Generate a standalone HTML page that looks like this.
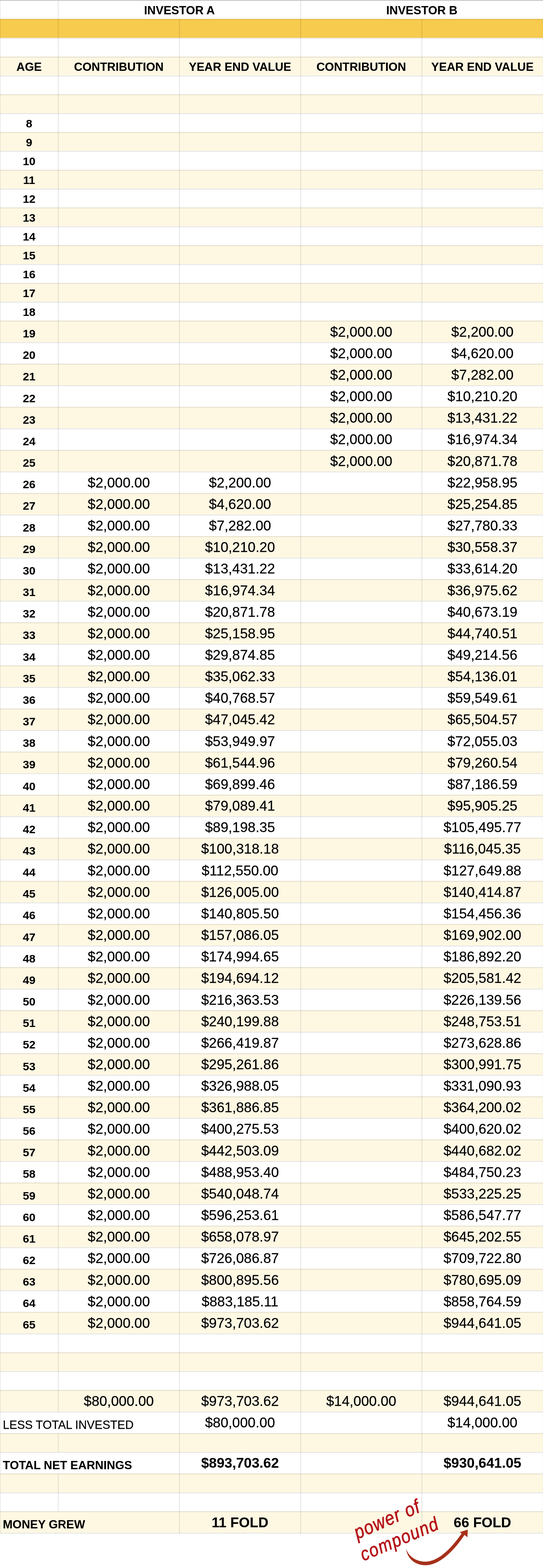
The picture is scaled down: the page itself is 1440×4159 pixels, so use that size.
<!DOCTYPE html>
<html><head><meta charset="utf-8"><title>Investor A vs Investor B</title>
<style>
html,body{margin:0;padding:0;background:#fff;}
body{width:1440px;height:4159px;position:relative;overflow:hidden;font-family:"Liberation Sans",Arial,sans-serif;color:#000;}
.bg{position:absolute;left:0;top:0;}
.c{background:#fef8e3;}
.y{background:#f7cb4d;}
.h{position:absolute;left:0;width:1440px;height:2px;background:rgba(0,0,0,.105);}
.v{position:absolute;width:2px;background:rgba(0,0,0,.105);}
.t{position:absolute;white-space:nowrap;line-height:1;-webkit-text-stroke:0.3px #000;}
.s{font-size:31px;}
.l{font-size:37.1px;}
.a{font-size:30.2px;}
.b{font-weight:bold;-webkit-text-stroke-width:0.1px;}
.m{text-align:center;}
.hand{position:absolute;color:#b5141a;font-style:italic;font-weight:normal;-webkit-text-stroke:0.9px #b5141a;white-space:nowrap;line-height:1;transform-origin:0 0.8465em;}
</style></head><body>

<svg class="bg" width="1440" height="4159" viewBox="0 0 1440 4159"><rect x="0" y="50.21" width="1440" height="50.01" fill="#f7cb4d"/><rect x="0" y="150.24" width="1440" height="50.01" fill="#fef8e3"/><rect x="0" y="250.27" width="1440" height="50.01" fill="#fef8e3"/><rect x="0" y="350.30" width="1440" height="50.01" fill="#fef8e3"/><rect x="0" y="450.32" width="1440" height="50.01" fill="#fef8e3"/><rect x="0" y="550.35" width="1440" height="50.01" fill="#fef8e3"/><rect x="0" y="650.38" width="1440" height="50.01" fill="#fef8e3"/><rect x="0" y="750.40" width="1440" height="50.01" fill="#fef8e3"/><rect x="0" y="850.43" width="1440" height="57.16" fill="#fef8e3"/><rect x="0" y="964.75" width="1440" height="57.16" fill="#fef8e3"/><rect x="0" y="1079.06" width="1440" height="57.16" fill="#fef8e3"/><rect x="0" y="1193.38" width="1440" height="57.16" fill="#fef8e3"/><rect x="0" y="1307.70" width="1440" height="57.16" fill="#fef8e3"/><rect x="0" y="1422.02" width="1440" height="57.16" fill="#fef8e3"/><rect x="0" y="1536.33" width="1440" height="57.16" fill="#fef8e3"/><rect x="0" y="1650.65" width="1440" height="57.16" fill="#fef8e3"/><rect x="0" y="1764.97" width="1440" height="57.16" fill="#fef8e3"/><rect x="0" y="1879.28" width="1440" height="57.16" fill="#fef8e3"/><rect x="0" y="1993.60" width="1440" height="57.16" fill="#fef8e3"/><rect x="0" y="2107.92" width="1440" height="57.16" fill="#fef8e3"/><rect x="0" y="2222.23" width="1440" height="57.16" fill="#fef8e3"/><rect x="0" y="2336.55" width="1440" height="57.16" fill="#fef8e3"/><rect x="0" y="2450.87" width="1440" height="57.16" fill="#fef8e3"/><rect x="0" y="2565.18" width="1440" height="57.16" fill="#fef8e3"/><rect x="0" y="2679.50" width="1440" height="57.16" fill="#fef8e3"/><rect x="0" y="2793.82" width="1440" height="57.16" fill="#fef8e3"/><rect x="0" y="2908.13" width="1440" height="57.16" fill="#fef8e3"/><rect x="0" y="3022.45" width="1440" height="57.16" fill="#fef8e3"/><rect x="0" y="3136.77" width="1440" height="57.16" fill="#fef8e3"/><rect x="0" y="3251.08" width="1440" height="57.16" fill="#fef8e3"/><rect x="0" y="3365.40" width="1440" height="57.16" fill="#fef8e3"/><rect x="0" y="3479.72" width="1440" height="57.16" fill="#fef8e3"/><rect x="0" y="3586.89" width="1440" height="50.01" fill="#fef8e3"/><rect x="0" y="3686.92" width="1440" height="57.16" fill="#fef8e3"/><rect x="0" y="3801.23" width="1440" height="50.01" fill="#fef8e3"/><rect x="0" y="3908.41" width="1440" height="50.01" fill="#fef8e3"/><rect x="0" y="4008.43" width="1440" height="57.16" fill="#fef8e3"/><g fill="#000" fill-opacity="0.1"><rect x="0" y="50.21" width="1440" height="2.35"/><rect x="0" y="100.23" width="1440" height="2.35"/><rect x="0" y="150.24" width="1440" height="2.35"/><rect x="0" y="200.25" width="1440" height="2.35"/><rect x="0" y="250.27" width="1440" height="2.35"/><rect x="0" y="300.28" width="1440" height="2.35"/><rect x="0" y="350.30" width="1440" height="2.35"/><rect x="0" y="400.31" width="1440" height="2.35"/><rect x="0" y="450.32" width="1440" height="2.35"/><rect x="0" y="500.34" width="1440" height="2.35"/><rect x="0" y="550.35" width="1440" height="2.35"/><rect x="0" y="600.36" width="1440" height="2.35"/><rect x="0" y="650.38" width="1440" height="2.35"/><rect x="0" y="700.39" width="1440" height="2.35"/><rect x="0" y="750.40" width="1440" height="2.35"/><rect x="0" y="800.42" width="1440" height="2.35"/><rect x="0" y="850.43" width="1440" height="2.35"/><rect x="0" y="907.59" width="1440" height="2.35"/><rect x="0" y="964.75" width="1440" height="2.35"/><rect x="0" y="1021.91" width="1440" height="2.35"/><rect x="0" y="1079.06" width="1440" height="2.35"/><rect x="0" y="1136.22" width="1440" height="2.35"/><rect x="0" y="1193.38" width="1440" height="2.35"/><rect x="0" y="1250.54" width="1440" height="2.35"/><rect x="0" y="1307.70" width="1440" height="2.35"/><rect x="0" y="1364.86" width="1440" height="2.35"/><rect x="0" y="1422.02" width="1440" height="2.35"/><rect x="0" y="1479.17" width="1440" height="2.35"/><rect x="0" y="1536.33" width="1440" height="2.35"/><rect x="0" y="1593.49" width="1440" height="2.35"/><rect x="0" y="1650.65" width="1440" height="2.35"/><rect x="0" y="1707.81" width="1440" height="2.35"/><rect x="0" y="1764.97" width="1440" height="2.35"/><rect x="0" y="1822.12" width="1440" height="2.35"/><rect x="0" y="1879.28" width="1440" height="2.35"/><rect x="0" y="1936.44" width="1440" height="2.35"/><rect x="0" y="1993.60" width="1440" height="2.35"/><rect x="0" y="2050.76" width="1440" height="2.35"/><rect x="0" y="2107.92" width="1440" height="2.35"/><rect x="0" y="2165.07" width="1440" height="2.35"/><rect x="0" y="2222.23" width="1440" height="2.35"/><rect x="0" y="2279.39" width="1440" height="2.35"/><rect x="0" y="2336.55" width="1440" height="2.35"/><rect x="0" y="2393.71" width="1440" height="2.35"/><rect x="0" y="2450.87" width="1440" height="2.35"/><rect x="0" y="2508.02" width="1440" height="2.35"/><rect x="0" y="2565.18" width="1440" height="2.35"/><rect x="0" y="2622.34" width="1440" height="2.35"/><rect x="0" y="2679.50" width="1440" height="2.35"/><rect x="0" y="2736.66" width="1440" height="2.35"/><rect x="0" y="2793.82" width="1440" height="2.35"/><rect x="0" y="2850.98" width="1440" height="2.35"/><rect x="0" y="2908.13" width="1440" height="2.35"/><rect x="0" y="2965.29" width="1440" height="2.35"/><rect x="0" y="3022.45" width="1440" height="2.35"/><rect x="0" y="3079.61" width="1440" height="2.35"/><rect x="0" y="3136.77" width="1440" height="2.35"/><rect x="0" y="3193.93" width="1440" height="2.35"/><rect x="0" y="3251.08" width="1440" height="2.35"/><rect x="0" y="3308.24" width="1440" height="2.35"/><rect x="0" y="3365.40" width="1440" height="2.35"/><rect x="0" y="3422.56" width="1440" height="2.35"/><rect x="0" y="3479.72" width="1440" height="2.35"/><rect x="0" y="3536.88" width="1440" height="2.35"/><rect x="0" y="3586.89" width="1440" height="2.35"/><rect x="0" y="3636.90" width="1440" height="2.35"/><rect x="0" y="3686.92" width="1440" height="2.35"/><rect x="0" y="3744.08" width="1440" height="2.35"/><rect x="0" y="3801.23" width="1440" height="2.35"/><rect x="0" y="3851.25" width="1440" height="2.35"/><rect x="0" y="3908.41" width="1440" height="2.35"/><rect x="0" y="3958.42" width="1440" height="2.35"/><rect x="0" y="4008.43" width="1440" height="2.35"/><rect x="0" y="4065.59" width="1440" height="2.35"/><rect x="153.20" y="0.00" width="2.35" height="3744.08"/><rect x="153.20" y="3801.23" width="2.35" height="50.01"/><rect x="153.20" y="3908.41" width="2.35" height="100.03"/><rect x="474.65" y="50.21" width="2.35" height="4017.73"/><rect x="796.10" y="0.00" width="2.35" height="4067.94"/><rect x="1117.55" y="50.21" width="2.35" height="4017.73"/><rect x="0" y="0" width="1.5" height="4067.94"/><rect x="1439.3" y="0" width="1" height="4067.94" fill-opacity="0.05"/></g><rect x="0" y="0" width="1440" height="2.2" fill="#c5c5c5"/></svg>
<div class="t s b m" style="left:154.4px;width:642.9px;top:11.8px">INVESTOR A</div>
<div class="t s b m" style="left:797.3px;width:642.7px;top:11.8px">INVESTOR B</div>
<div class="t s b m" style="left:0.0px;width:154.4px;top:161.8px">AGE</div>
<div class="t s b m" style="left:154.4px;width:321.4px;top:161.8px">CONTRIBUTION</div>
<div class="t s b m" style="left:475.8px;width:321.4px;top:161.8px">YEAR END VALUE</div>
<div class="t s b m" style="left:797.3px;width:321.4px;top:161.8px">CONTRIBUTION</div>
<div class="t s b m" style="left:1118.7px;width:321.3px;top:161.8px">YEAR END VALUE</div>
<div class="t a b m" style="left:0.0px;width:154.4px;top:312.8px">8</div>
<div class="t a b m" style="left:0.0px;width:154.4px;top:362.8px">9</div>
<div class="t a b m" style="left:0.0px;width:154.4px;top:412.9px">10</div>
<div class="t a b m" style="left:0.0px;width:154.4px;top:462.9px">11</div>
<div class="t a b m" style="left:0.0px;width:154.4px;top:512.9px">12</div>
<div class="t a b m" style="left:0.0px;width:154.4px;top:562.9px">13</div>
<div class="t a b m" style="left:0.0px;width:154.4px;top:612.9px">14</div>
<div class="t a b m" style="left:0.0px;width:154.4px;top:662.9px">15</div>
<div class="t a b m" style="left:0.0px;width:154.4px;top:712.9px">16</div>
<div class="t a b m" style="left:0.0px;width:154.4px;top:763.0px">17</div>
<div class="t a b m" style="left:0.0px;width:154.4px;top:813.0px">18</div>
<div class="t a b m" style="left:0.0px;width:154.4px;top:870.1px">19</div>
<div class="t l m" style="left:797.3px;width:321.4px;top:861.6px">$2,000.00</div>
<div class="t l m" style="left:1118.7px;width:321.3px;top:861.6px">$2,200.00</div>
<div class="t a b m" style="left:0.0px;width:154.4px;top:927.3px">20</div>
<div class="t l m" style="left:797.3px;width:321.4px;top:918.7px">$2,000.00</div>
<div class="t l m" style="left:1118.7px;width:321.3px;top:918.7px">$4,620.00</div>
<div class="t a b m" style="left:0.0px;width:154.4px;top:984.4px">21</div>
<div class="t l m" style="left:797.3px;width:321.4px;top:975.9px">$2,000.00</div>
<div class="t l m" style="left:1118.7px;width:321.3px;top:975.9px">$7,282.00</div>
<div class="t a b m" style="left:0.0px;width:154.4px;top:1041.6px">22</div>
<div class="t l m" style="left:797.3px;width:321.4px;top:1033.1px">$2,000.00</div>
<div class="t l m" style="left:1118.7px;width:321.3px;top:1033.1px">$10,210.20</div>
<div class="t a b m" style="left:0.0px;width:154.4px;top:1098.8px">23</div>
<div class="t l m" style="left:797.3px;width:321.4px;top:1090.2px">$2,000.00</div>
<div class="t l m" style="left:1118.7px;width:321.3px;top:1090.2px">$13,431.22</div>
<div class="t a b m" style="left:0.0px;width:154.4px;top:1155.9px">24</div>
<div class="t l m" style="left:797.3px;width:321.4px;top:1147.4px">$2,000.00</div>
<div class="t l m" style="left:1118.7px;width:321.3px;top:1147.4px">$16,974.34</div>
<div class="t a b m" style="left:0.0px;width:154.4px;top:1213.1px">25</div>
<div class="t l m" style="left:797.3px;width:321.4px;top:1204.5px">$2,000.00</div>
<div class="t l m" style="left:1118.7px;width:321.3px;top:1204.5px">$20,871.78</div>
<div class="t a b m" style="left:0.0px;width:154.4px;top:1270.2px">26</div>
<div class="t l m" style="left:154.4px;width:321.4px;top:1261.7px">$2,000.00</div>
<div class="t l m" style="left:475.8px;width:321.4px;top:1261.7px">$2,200.00</div>
<div class="t l m" style="left:1118.7px;width:321.3px;top:1261.7px">$22,958.95</div>
<div class="t a b m" style="left:0.0px;width:154.4px;top:1327.4px">27</div>
<div class="t l m" style="left:154.4px;width:321.4px;top:1318.9px">$2,000.00</div>
<div class="t l m" style="left:475.8px;width:321.4px;top:1318.9px">$4,620.00</div>
<div class="t l m" style="left:1118.7px;width:321.3px;top:1318.9px">$25,254.85</div>
<div class="t a b m" style="left:0.0px;width:154.4px;top:1384.6px">28</div>
<div class="t l m" style="left:154.4px;width:321.4px;top:1376.0px">$2,000.00</div>
<div class="t l m" style="left:475.8px;width:321.4px;top:1376.0px">$7,282.00</div>
<div class="t l m" style="left:1118.7px;width:321.3px;top:1376.0px">$27,780.33</div>
<div class="t a b m" style="left:0.0px;width:154.4px;top:1441.7px">29</div>
<div class="t l m" style="left:154.4px;width:321.4px;top:1433.2px">$2,000.00</div>
<div class="t l m" style="left:475.8px;width:321.4px;top:1433.2px">$10,210.20</div>
<div class="t l m" style="left:1118.7px;width:321.3px;top:1433.2px">$30,558.37</div>
<div class="t a b m" style="left:0.0px;width:154.4px;top:1498.9px">30</div>
<div class="t l m" style="left:154.4px;width:321.4px;top:1490.3px">$2,000.00</div>
<div class="t l m" style="left:475.8px;width:321.4px;top:1490.3px">$13,431.22</div>
<div class="t l m" style="left:1118.7px;width:321.3px;top:1490.3px">$33,614.20</div>
<div class="t a b m" style="left:0.0px;width:154.4px;top:1556.0px">31</div>
<div class="t l m" style="left:154.4px;width:321.4px;top:1547.5px">$2,000.00</div>
<div class="t l m" style="left:475.8px;width:321.4px;top:1547.5px">$16,974.34</div>
<div class="t l m" style="left:1118.7px;width:321.3px;top:1547.5px">$36,975.62</div>
<div class="t a b m" style="left:0.0px;width:154.4px;top:1613.2px">32</div>
<div class="t l m" style="left:154.4px;width:321.4px;top:1604.6px">$2,000.00</div>
<div class="t l m" style="left:475.8px;width:321.4px;top:1604.6px">$20,871.78</div>
<div class="t l m" style="left:1118.7px;width:321.3px;top:1604.6px">$40,673.19</div>
<div class="t a b m" style="left:0.0px;width:154.4px;top:1670.3px">33</div>
<div class="t l m" style="left:154.4px;width:321.4px;top:1661.8px">$2,000.00</div>
<div class="t l m" style="left:475.8px;width:321.4px;top:1661.8px">$25,158.95</div>
<div class="t l m" style="left:1118.7px;width:321.3px;top:1661.8px">$44,740.51</div>
<div class="t a b m" style="left:0.0px;width:154.4px;top:1727.5px">34</div>
<div class="t l m" style="left:154.4px;width:321.4px;top:1719.0px">$2,000.00</div>
<div class="t l m" style="left:475.8px;width:321.4px;top:1719.0px">$29,874.85</div>
<div class="t l m" style="left:1118.7px;width:321.3px;top:1719.0px">$49,214.56</div>
<div class="t a b m" style="left:0.0px;width:154.4px;top:1784.7px">35</div>
<div class="t l m" style="left:154.4px;width:321.4px;top:1776.1px">$2,000.00</div>
<div class="t l m" style="left:475.8px;width:321.4px;top:1776.1px">$35,062.33</div>
<div class="t l m" style="left:1118.7px;width:321.3px;top:1776.1px">$54,136.01</div>
<div class="t a b m" style="left:0.0px;width:154.4px;top:1841.8px">36</div>
<div class="t l m" style="left:154.4px;width:321.4px;top:1833.3px">$2,000.00</div>
<div class="t l m" style="left:475.8px;width:321.4px;top:1833.3px">$40,768.57</div>
<div class="t l m" style="left:1118.7px;width:321.3px;top:1833.3px">$59,549.61</div>
<div class="t a b m" style="left:0.0px;width:154.4px;top:1899.0px">37</div>
<div class="t l m" style="left:154.4px;width:321.4px;top:1890.4px">$2,000.00</div>
<div class="t l m" style="left:475.8px;width:321.4px;top:1890.4px">$47,045.42</div>
<div class="t l m" style="left:1118.7px;width:321.3px;top:1890.4px">$65,504.57</div>
<div class="t a b m" style="left:0.0px;width:154.4px;top:1956.1px">38</div>
<div class="t l m" style="left:154.4px;width:321.4px;top:1947.6px">$2,000.00</div>
<div class="t l m" style="left:475.8px;width:321.4px;top:1947.6px">$53,949.97</div>
<div class="t l m" style="left:1118.7px;width:321.3px;top:1947.6px">$72,055.03</div>
<div class="t a b m" style="left:0.0px;width:154.4px;top:2013.3px">39</div>
<div class="t l m" style="left:154.4px;width:321.4px;top:2004.8px">$2,000.00</div>
<div class="t l m" style="left:475.8px;width:321.4px;top:2004.8px">$61,544.96</div>
<div class="t l m" style="left:1118.7px;width:321.3px;top:2004.8px">$79,260.54</div>
<div class="t a b m" style="left:0.0px;width:154.4px;top:2070.5px">40</div>
<div class="t l m" style="left:154.4px;width:321.4px;top:2061.9px">$2,000.00</div>
<div class="t l m" style="left:475.8px;width:321.4px;top:2061.9px">$69,899.46</div>
<div class="t l m" style="left:1118.7px;width:321.3px;top:2061.9px">$87,186.59</div>
<div class="t a b m" style="left:0.0px;width:154.4px;top:2127.6px">41</div>
<div class="t l m" style="left:154.4px;width:321.4px;top:2119.1px">$2,000.00</div>
<div class="t l m" style="left:475.8px;width:321.4px;top:2119.1px">$79,089.41</div>
<div class="t l m" style="left:1118.7px;width:321.3px;top:2119.1px">$95,905.25</div>
<div class="t a b m" style="left:0.0px;width:154.4px;top:2184.8px">42</div>
<div class="t l m" style="left:154.4px;width:321.4px;top:2176.2px">$2,000.00</div>
<div class="t l m" style="left:475.8px;width:321.4px;top:2176.2px">$89,198.35</div>
<div class="t l m" style="left:1118.7px;width:321.3px;top:2176.2px">$105,495.77</div>
<div class="t a b m" style="left:0.0px;width:154.4px;top:2241.9px">43</div>
<div class="t l m" style="left:154.4px;width:321.4px;top:2233.4px">$2,000.00</div>
<div class="t l m" style="left:475.8px;width:321.4px;top:2233.4px">$100,318.18</div>
<div class="t l m" style="left:1118.7px;width:321.3px;top:2233.4px">$116,045.35</div>
<div class="t a b m" style="left:0.0px;width:154.4px;top:2299.1px">44</div>
<div class="t l m" style="left:154.4px;width:321.4px;top:2290.5px">$2,000.00</div>
<div class="t l m" style="left:475.8px;width:321.4px;top:2290.5px">$112,550.00</div>
<div class="t l m" style="left:1118.7px;width:321.3px;top:2290.5px">$127,649.88</div>
<div class="t a b m" style="left:0.0px;width:154.4px;top:2356.2px">45</div>
<div class="t l m" style="left:154.4px;width:321.4px;top:2347.7px">$2,000.00</div>
<div class="t l m" style="left:475.8px;width:321.4px;top:2347.7px">$126,005.00</div>
<div class="t l m" style="left:1118.7px;width:321.3px;top:2347.7px">$140,414.87</div>
<div class="t a b m" style="left:0.0px;width:154.4px;top:2413.4px">46</div>
<div class="t l m" style="left:154.4px;width:321.4px;top:2404.9px">$2,000.00</div>
<div class="t l m" style="left:475.8px;width:321.4px;top:2404.9px">$140,805.50</div>
<div class="t l m" style="left:1118.7px;width:321.3px;top:2404.9px">$154,456.36</div>
<div class="t a b m" style="left:0.0px;width:154.4px;top:2470.6px">47</div>
<div class="t l m" style="left:154.4px;width:321.4px;top:2462.0px">$2,000.00</div>
<div class="t l m" style="left:475.8px;width:321.4px;top:2462.0px">$157,086.05</div>
<div class="t l m" style="left:1118.7px;width:321.3px;top:2462.0px">$169,902.00</div>
<div class="t a b m" style="left:0.0px;width:154.4px;top:2527.7px">48</div>
<div class="t l m" style="left:154.4px;width:321.4px;top:2519.2px">$2,000.00</div>
<div class="t l m" style="left:475.8px;width:321.4px;top:2519.2px">$174,994.65</div>
<div class="t l m" style="left:1118.7px;width:321.3px;top:2519.2px">$186,892.20</div>
<div class="t a b m" style="left:0.0px;width:154.4px;top:2584.9px">49</div>
<div class="t l m" style="left:154.4px;width:321.4px;top:2576.3px">$2,000.00</div>
<div class="t l m" style="left:475.8px;width:321.4px;top:2576.3px">$194,694.12</div>
<div class="t l m" style="left:1118.7px;width:321.3px;top:2576.3px">$205,581.42</div>
<div class="t a b m" style="left:0.0px;width:154.4px;top:2642.0px">50</div>
<div class="t l m" style="left:154.4px;width:321.4px;top:2633.5px">$2,000.00</div>
<div class="t l m" style="left:475.8px;width:321.4px;top:2633.5px">$216,363.53</div>
<div class="t l m" style="left:1118.7px;width:321.3px;top:2633.5px">$226,139.56</div>
<div class="t a b m" style="left:0.0px;width:154.4px;top:2699.2px">51</div>
<div class="t l m" style="left:154.4px;width:321.4px;top:2690.7px">$2,000.00</div>
<div class="t l m" style="left:475.8px;width:321.4px;top:2690.7px">$240,199.88</div>
<div class="t l m" style="left:1118.7px;width:321.3px;top:2690.7px">$248,753.51</div>
<div class="t a b m" style="left:0.0px;width:154.4px;top:2756.4px">52</div>
<div class="t l m" style="left:154.4px;width:321.4px;top:2747.8px">$2,000.00</div>
<div class="t l m" style="left:475.8px;width:321.4px;top:2747.8px">$266,419.87</div>
<div class="t l m" style="left:1118.7px;width:321.3px;top:2747.8px">$273,628.86</div>
<div class="t a b m" style="left:0.0px;width:154.4px;top:2813.5px">53</div>
<div class="t l m" style="left:154.4px;width:321.4px;top:2805.0px">$2,000.00</div>
<div class="t l m" style="left:475.8px;width:321.4px;top:2805.0px">$295,261.86</div>
<div class="t l m" style="left:1118.7px;width:321.3px;top:2805.0px">$300,991.75</div>
<div class="t a b m" style="left:0.0px;width:154.4px;top:2870.7px">54</div>
<div class="t l m" style="left:154.4px;width:321.4px;top:2862.1px">$2,000.00</div>
<div class="t l m" style="left:475.8px;width:321.4px;top:2862.1px">$326,988.05</div>
<div class="t l m" style="left:1118.7px;width:321.3px;top:2862.1px">$331,090.93</div>
<div class="t a b m" style="left:0.0px;width:154.4px;top:2927.8px">55</div>
<div class="t l m" style="left:154.4px;width:321.4px;top:2919.3px">$2,000.00</div>
<div class="t l m" style="left:475.8px;width:321.4px;top:2919.3px">$361,886.85</div>
<div class="t l m" style="left:1118.7px;width:321.3px;top:2919.3px">$364,200.02</div>
<div class="t a b m" style="left:0.0px;width:154.4px;top:2985.0px">56</div>
<div class="t l m" style="left:154.4px;width:321.4px;top:2976.4px">$2,000.00</div>
<div class="t l m" style="left:475.8px;width:321.4px;top:2976.4px">$400,275.53</div>
<div class="t l m" style="left:1118.7px;width:321.3px;top:2976.4px">$400,620.02</div>
<div class="t a b m" style="left:0.0px;width:154.4px;top:3042.1px">57</div>
<div class="t l m" style="left:154.4px;width:321.4px;top:3033.6px">$2,000.00</div>
<div class="t l m" style="left:475.8px;width:321.4px;top:3033.6px">$442,503.09</div>
<div class="t l m" style="left:1118.7px;width:321.3px;top:3033.6px">$440,682.02</div>
<div class="t a b m" style="left:0.0px;width:154.4px;top:3099.3px">58</div>
<div class="t l m" style="left:154.4px;width:321.4px;top:3090.8px">$2,000.00</div>
<div class="t l m" style="left:475.8px;width:321.4px;top:3090.8px">$488,953.40</div>
<div class="t l m" style="left:1118.7px;width:321.3px;top:3090.8px">$484,750.23</div>
<div class="t a b m" style="left:0.0px;width:154.4px;top:3156.5px">59</div>
<div class="t l m" style="left:154.4px;width:321.4px;top:3147.9px">$2,000.00</div>
<div class="t l m" style="left:475.8px;width:321.4px;top:3147.9px">$540,048.74</div>
<div class="t l m" style="left:1118.7px;width:321.3px;top:3147.9px">$533,225.25</div>
<div class="t a b m" style="left:0.0px;width:154.4px;top:3213.6px">60</div>
<div class="t l m" style="left:154.4px;width:321.4px;top:3205.1px">$2,000.00</div>
<div class="t l m" style="left:475.8px;width:321.4px;top:3205.1px">$596,253.61</div>
<div class="t l m" style="left:1118.7px;width:321.3px;top:3205.1px">$586,547.77</div>
<div class="t a b m" style="left:0.0px;width:154.4px;top:3270.8px">61</div>
<div class="t l m" style="left:154.4px;width:321.4px;top:3262.2px">$2,000.00</div>
<div class="t l m" style="left:475.8px;width:321.4px;top:3262.2px">$658,078.97</div>
<div class="t l m" style="left:1118.7px;width:321.3px;top:3262.2px">$645,202.55</div>
<div class="t a b m" style="left:0.0px;width:154.4px;top:3327.9px">62</div>
<div class="t l m" style="left:154.4px;width:321.4px;top:3319.4px">$2,000.00</div>
<div class="t l m" style="left:475.8px;width:321.4px;top:3319.4px">$726,086.87</div>
<div class="t l m" style="left:1118.7px;width:321.3px;top:3319.4px">$709,722.80</div>
<div class="t a b m" style="left:0.0px;width:154.4px;top:3385.1px">63</div>
<div class="t l m" style="left:154.4px;width:321.4px;top:3376.6px">$2,000.00</div>
<div class="t l m" style="left:475.8px;width:321.4px;top:3376.6px">$800,895.56</div>
<div class="t l m" style="left:1118.7px;width:321.3px;top:3376.6px">$780,695.09</div>
<div class="t a b m" style="left:0.0px;width:154.4px;top:3442.3px">64</div>
<div class="t l m" style="left:154.4px;width:321.4px;top:3433.7px">$2,000.00</div>
<div class="t l m" style="left:475.8px;width:321.4px;top:3433.7px">$883,185.11</div>
<div class="t l m" style="left:1118.7px;width:321.3px;top:3433.7px">$858,764.59</div>
<div class="t a b m" style="left:0.0px;width:154.4px;top:3499.4px">65</div>
<div class="t l m" style="left:154.4px;width:321.4px;top:3490.9px">$2,000.00</div>
<div class="t l m" style="left:475.8px;width:321.4px;top:3490.9px">$973,703.62</div>
<div class="t l m" style="left:1118.7px;width:321.3px;top:3490.9px">$944,641.05</div>
<div class="t l m" style="left:154.4px;width:321.4px;top:3698.1px">$80,000.00</div>
<div class="t l m" style="left:475.8px;width:321.4px;top:3698.1px">$973,703.62</div>
<div class="t l m" style="left:797.3px;width:321.4px;top:3698.1px">$14,000.00</div>
<div class="t l m" style="left:1118.7px;width:321.3px;top:3698.1px">$944,641.05</div>
<div class="t s" style="left:7.5px;top:3763.6px">LESS TOTAL INVESTED</div>
<div class="t l m" style="left:475.8px;width:321.4px;top:3755.2px">$80,000.00</div>
<div class="t l m" style="left:1118.7px;width:321.3px;top:3755.2px">$14,000.00</div>
<div class="t s b" style="left:7.5px;top:3870.8px">TOTAL NET EARNINGS</div>
<div class="t l b m" style="left:475.8px;width:321.4px;top:3862.4px">$893,703.62</div>
<div class="t l b m" style="left:1118.7px;width:321.3px;top:3862.4px">$930,641.05</div>
<div class="t s b" style="left:7.5px;top:4027.9px">MONEY GREW</div>
<div class="t l b m" style="left:475.8px;width:321.4px;top:4019.6px">11 FOLD</div>
<div class="t l b m" style="left:1118.7px;width:321.3px;top:4019.6px">66 FOLD</div>
<div class="hand" style="left:948.0px;top:4046.3px;font-size:44.5px;letter-spacing:2px;transform:rotate(-23.5deg) scale(1,1.15)">power of</div>
<div class="hand" style="left:964.0px;top:4105.2px;font-size:43.5px;letter-spacing:2.4px;transform:rotate(-23deg) scale(1,1.15)">compound</div>
<svg style="position:absolute;left:930px;top:3960px" width="340" height="199" viewBox="0 0 892 522"><path d="M385 388 C392 440 430 500 520 503 C620 503 720 400 792 292 L812 308 L815 255 L760 272 L772 282 C700 385 610 478 520 478 C440 476 400 430 385 388 Z" fill="#a5301a"/></svg>
</body></html>
